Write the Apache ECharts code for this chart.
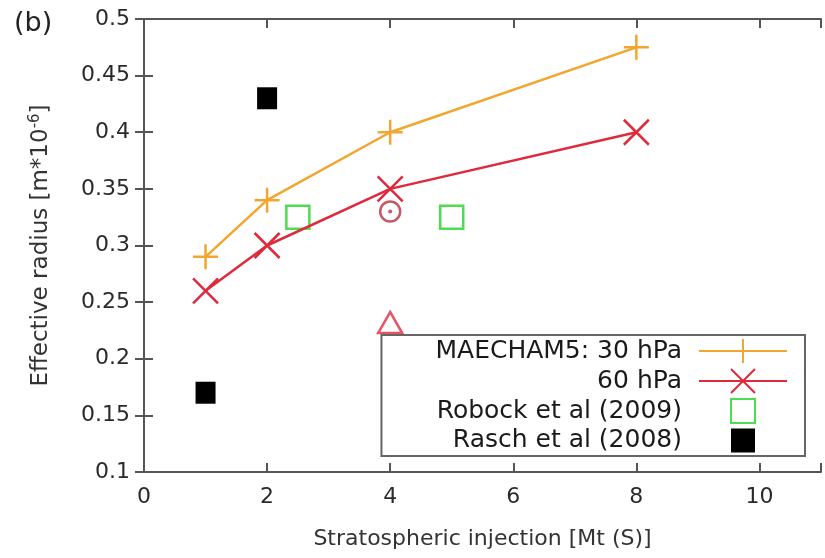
<!DOCTYPE html>
<html>
<head>
<meta charset="utf-8">
<script src="https://cdn.jsdelivr.net/npm/echarts@6/dist/echarts.min.js"></script>
<style>html,body{margin:0;padding:0;background:#fff;}#c{width:825px;height:558px;}</style>
</head>
<body>
<div id="c"></div>
<script>
// ---- data ----
const xTicks = [0, 2, 4, 6, 8, 10];
const yTicks = [0.1, 0.15, 0.2, 0.25, 0.3, 0.35, 0.4, 0.45, 0.5];
const injection = [1, 2, 4, 8];
const hpa30 = [0.29, 0.34, 0.40, 0.475];
const hpa60 = [0.26, 0.30, 0.35, 0.40];
const robockX = [2.5, 5];
const robockY = [0.325, 0.325];
const raschX = [1, 2];
const raschY = [0.17, 0.43];
const circleX = [4];
const circleY = [0.33];
const triangleX = [4];
const triangleY = [0.232];
const seriesNames = ['MAECHAM5: 30 hPa', '60 hPa', 'Robock et al (2009)', 'Rasch et al (2008)'];

const zip = (xs, ys) => xs.map((x, i) => [x, ys[i]]);

const FONT = 'DejaVu Sans';
const AX = '#555';
const ORANGE = '#f2a62e';
const RED = '#de2a3c';
const GREEN = '#50dc50';
const DARKRED = '#b8303e';

const plusPath = 'path://M0,10L20,10M10,0L10,20';
const crossPath = 'path://M0,0L20,20M20,0L0,20';

const chart = echarts.init(document.getElementById('c'), null, {renderer: 'canvas'});
const option = {
  backgroundColor: '#fff',
  animation: false,
  textStyle: {fontFamily: FONT},
  title: {
    text: '(b)', left: 9, top: 5,
    textStyle: {fontFamily: FONT, fontSize: 27, fontWeight: 'normal', color: '#222'}
  },
  grid: {left: 144, right: 4, top: 19, bottom: 86},
  xAxis: [{
    type: 'value', min: 0, max: 11, interval: 2,
    name: 'Stratospheric injection [Mt (S)]',
    nameLocation: 'middle', nameGap: 56,
    nameTextStyle: {fontFamily: FONT, fontSize: 22, color: '#333'},
    axisLine: {lineStyle: {color: AX, width: 2}},
    axisTick: {inside: true, length: 9, lineStyle: {color: AX, width: 2}},
    axisLabel: {fontFamily: FONT, fontSize: 22, color: '#2a2a2a', margin: 14,
      formatter: v => (xTicks.indexOf(v) >= 0 ? String(v) : '')},
    splitLine: {show: false}
  }, {
    type: 'value', position: 'top', min: 0, max: 11, interval: 2,
    axisLine: {lineStyle: {color: AX, width: 2}},
    axisTick: {inside: true, length: 9, lineStyle: {color: AX, width: 2}},
    axisLabel: {show: false}, splitLine: {show: false}
  }],
  yAxis: [{
    type: 'value', min: 0.1, max: 0.5, interval: 0.05,
    name: '{a|Effective radius [m*10}{s|-6}{a|]}',
    nameLocation: 'middle', nameGap: 90,
    nameTextStyle: {
      rich: {
        a: {fontFamily: FONT, fontSize: 23, color: '#333'},
        s: {fontFamily: FONT, fontSize: 15, color: '#333', verticalAlign: 'top', padding: [0, 0, 11, 0]}
      }
    },
    axisLine: {lineStyle: {color: AX, width: 2}},
    axisTick: {inside: true, length: 9, lineStyle: {color: AX, width: 2}},
    axisLabel: {fontFamily: FONT, fontSize: 22, color: '#2a2a2a', margin: 14,
      formatter: v => (yTicks.some(t => Math.abs(t - v) < 1e-9) ? String(+v.toFixed(2)) : '')},
    splitLine: {show: false}
  }, {
    type: 'value', position: 'right', min: 0.1, max: 0.5, interval: 0.05,
    axisLine: {lineStyle: {color: AX, width: 2}},
    axisTick: {inside: true, length: 9, lineStyle: {color: AX, width: 2}},
    axisLabel: {show: false}, splitLine: {show: false}
  }],
  legend: {
    data: seriesNames,
    orient: 'vertical', align: 'right',
    right: 20, top: 335,
    padding: [3, 17, 3, 54],
    itemWidth: 88, itemHeight: 30, itemGap: 4,
    backgroundColor: '#fff',
    borderColor: '#666', borderWidth: 2, borderRadius: 0,
    textStyle: {fontFamily: FONT, fontSize: 25, color: '#1a1a1a', padding: [0, 12, 0, 0]}
  },
  series: [
    {
      name: seriesNames[0], type: 'line', data: zip(injection, hpa30),
      symbol: plusPath, symbolSize: 25,
      lineStyle: {color: ORANGE, width: 2.5},
      itemStyle: {color: ORANGE, borderColor: ORANGE, borderWidth: 2.5},
      z: 3
    },
    {
      name: seriesNames[1], type: 'line', data: zip(injection, hpa60),
      symbol: crossPath, symbolSize: 25,
      lineStyle: {color: RED, width: 2.5},
      itemStyle: {color: RED, borderColor: RED, borderWidth: 2.5},
      z: 3
    },
    {
      name: seriesNames[2], type: 'line', data: zip(robockX, robockY),
      symbol: 'rect', symbolSize: 23,
      lineStyle: {width: 0, opacity: 0, color: GREEN},
      itemStyle: {color: 'rgba(255,255,255,0)', borderColor: GREEN, borderWidth: 2.5},
      z: 2
    },
    {
      name: seriesNames[3], type: 'line', data: zip(raschX, raschY),
      symbol: 'rect', symbolSize: [20, 22],
      lineStyle: {width: 0, opacity: 0, color: '#000'},
      itemStyle: {color: '#000', borderColor: '#000', borderWidth: 0},
      z: 2
    },
    {
      name: 'circle', type: 'scatter', data: zip(circleX, circleY),
      symbol: 'circle', symbolSize: 20,
      itemStyle: {color: 'rgba(255,255,255,0)', borderColor: DARKRED, borderWidth: 2.5}
    },
    {
      name: 'circleDot', type: 'scatter', data: zip(circleX, circleY),
      symbol: 'circle', symbolSize: 4,
      itemStyle: {color: DARKRED}
    },
    {
      name: 'triangle', type: 'scatter', data: zip(triangleX, triangleY),
      symbol: 'triangle', symbolSize: [24, 21],
      itemStyle: {color: 'rgba(255,255,255,0)', borderColor: RED, borderWidth: 2.5}
    }
  ]
};
chart.setOption(option);
</script>
</body>
</html>
